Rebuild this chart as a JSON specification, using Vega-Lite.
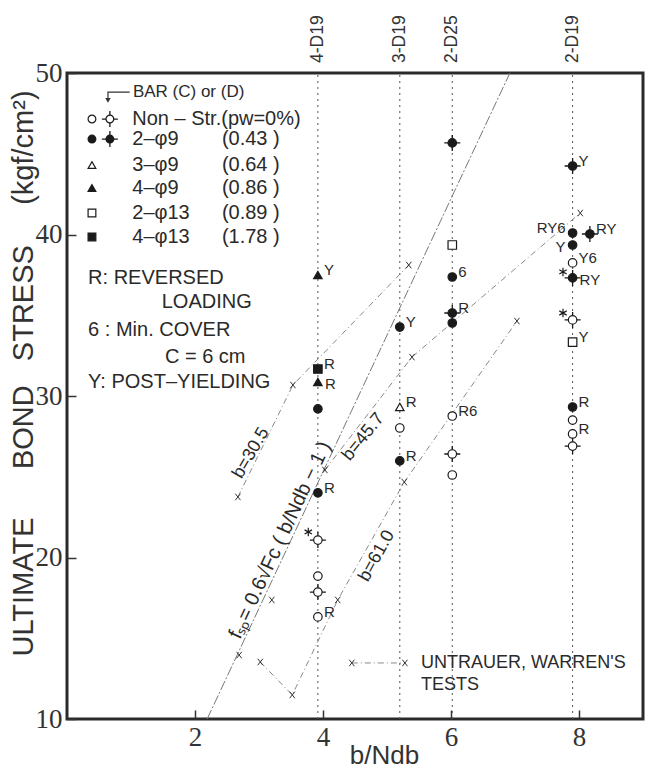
{
  "$schema": "https://vega.github.io/schema/vega-lite/v6.json",
  "width": 576,
  "height": 646,
  "autosize": {"type": "none"},
  "padding": {"left": 67, "top": 73, "right": 7, "bottom": 56},
  "background": "white",
  "config": {
    "font": "Liberation Sans",
    "view": {"stroke": "#2a2a2a", "strokeWidth": 3},
    "axis": {"domain": false, "grid": false, "labelColor": "#333", "titleColor": "#333", "labelFont": "Liberation Sans Narrow", "titleFont": "Liberation Sans", "titleFontWeight": "normal", "tickColor": "#333", "tickWidth": 1.5},
    "text": {"font": "Liberation Sans", "color": "#2a2a2a"}
  },
  "datasets": {
    "bars": [
      {"x": 3.92, "name": "4-D19"},
      {"x": 5.2, "name": "3-D19"},
      {"x": 6.02, "name": "2-D25"},
      {"x": 7.9, "name": "2-D19"}
    ],
    "fsp": [
      {"x": 2.19, "y": 10},
      {"x": 6.92, "y": 50}
    ],
    "uw": [
      {"x": 2.67, "y": 23.75, "series": "b=30.5"},
      {"x": 3.53, "y": 30.68, "series": "b=30.5"},
      {"x": 5.34, "y": 38.11, "series": "b=30.5"},
      {"x": 4.03, "y": 25.42, "series": "b=45.7"},
      {"x": 5.39, "y": 32.41, "series": "b=45.7"},
      {"x": 8.02, "y": 41.33, "series": "b=45.7"},
      {"x": 3.02, "y": 13.53, "series": "b=61.0"},
      {"x": 3.52, "y": 11.49, "series": "b=61.0"},
      {"x": 4.23, "y": 17.37, "series": "b=61.0"},
      {"x": 5.27, "y": 24.67, "series": "b=61.0"},
      {"x": 7.03, "y": 34.64, "series": "b=61.0"},
      {"x": 2.69, "y": 13.96, "series": null},
      {"x": 3.2, "y": 17.37, "series": null}
    ],
    "uwLegend": [
      {"x": 4.45, "y": 13.47},
      {"x": 5.28, "y": 13.47}
    ],
    "pts": [
      {"x": 6.02, "y": 45.67, "type": "2-φ9", "crossed": true, "label": ""},
      {"x": 6.02, "y": 39.35, "type": "2-φ13", "crossed": false, "label": ""},
      {"x": 6.02, "y": 37.37, "type": "2-φ9", "crossed": false, "label": "6"},
      {"x": 6.02, "y": 35.14, "type": "2-φ9", "crossed": true, "label": "R"},
      {"x": 6.02, "y": 34.52, "type": "2-φ9", "crossed": false, "label": ""},
      {"x": 6.02, "y": 28.76, "type": "Non-Str", "crossed": false, "label": "R6"},
      {"x": 6.02, "y": 26.41, "type": "Non-Str", "crossed": true, "label": ""},
      {"x": 6.02, "y": 25.11, "type": "Non-Str", "crossed": false, "label": ""},
      {"x": 5.2, "y": 34.27, "type": "2-φ9", "crossed": false, "label": "Y"},
      {"x": 5.2, "y": 29.32, "type": "3-φ9", "crossed": false, "label": "R"},
      {"x": 5.2, "y": 28.02, "type": "Non-Str", "crossed": false, "label": ""},
      {"x": 5.2, "y": 25.98, "type": "2-φ9", "crossed": false, "label": "R"},
      {"x": 3.92, "y": 37.49, "type": "4-φ9", "crossed": false, "label": "Y"},
      {"x": 3.92, "y": 31.67, "type": "4-φ13", "crossed": false, "label": "R"},
      {"x": 3.92, "y": 30.87, "type": "4-φ9", "crossed": false, "label": "R"},
      {"x": 3.92, "y": 29.2, "type": "2-φ9", "crossed": false, "label": ""},
      {"x": 3.92, "y": 24.0, "type": "2-φ9", "crossed": false, "label": "R"},
      {"x": 3.77, "y": 21.58, "type": "other", "crossed": false, "label": ""},
      {"x": 3.92, "y": 21.08, "type": "Non-Str", "crossed": true, "label": ""},
      {"x": 3.92, "y": 18.85, "type": "Non-Str", "crossed": false, "label": ""},
      {"x": 3.92, "y": 17.86, "type": "Non-Str", "crossed": true, "label": ""},
      {"x": 3.92, "y": 16.32, "type": "Non-Str", "crossed": false, "label": "R"},
      {"x": 7.9, "y": 44.24, "type": "2-φ9", "crossed": true, "label": "Y"},
      {"x": 7.9, "y": 40.09, "type": "2-φ9", "crossed": false, "label": "RY6"},
      {"x": 8.17, "y": 40.03, "type": "2-φ9", "crossed": true, "label": "RY"},
      {"x": 7.9, "y": 39.35, "type": "2-φ9", "crossed": false, "label": "Y"},
      {"x": 7.9, "y": 38.24, "type": "Non-Str", "crossed": false, "label": "Y6"},
      {"x": 7.75, "y": 37.68, "type": "other", "crossed": false, "label": ""},
      {"x": 7.9, "y": 37.31, "type": "2-φ9", "crossed": true, "label": "RY"},
      {"x": 7.75, "y": 35.14, "type": "other", "crossed": false, "label": ""},
      {"x": 7.9, "y": 34.71, "type": "Non-Str", "crossed": true, "label": ""},
      {"x": 7.9, "y": 33.34, "type": "2-φ13", "crossed": false, "label": "Y"},
      {"x": 7.9, "y": 29.32, "type": "2-φ9", "crossed": false, "label": "R"},
      {"x": 7.9, "y": 28.51, "type": "Non-Str", "crossed": false, "label": ""},
      {"x": 7.9, "y": 27.65, "type": "Non-Str", "crossed": false, "label": "R"},
      {"x": 7.9, "y": 26.9, "type": "Non-Str", "crossed": true, "label": ""}
    ],
    "legSym": [
      {"x": 0.39, "y": 47.15, "type": "Non-Str", "crossed": false},
      {"x": 0.67, "y": 47.15, "type": "Non-Str", "crossed": true},
      {"x": 0.39, "y": 45.91, "type": "2-φ9", "crossed": false},
      {"x": 0.67, "y": 45.91, "type": "2-φ9", "crossed": true},
      {"x": 0.39, "y": 44.3, "type": "3-φ9", "crossed": false},
      {"x": 0.39, "y": 42.88, "type": "4-φ9", "crossed": false},
      {"x": 0.39, "y": 41.33, "type": "2-φ13", "crossed": false},
      {"x": 0.39, "y": 39.85, "type": "4-φ13", "crossed": false}
    ],
    "legText": [
      {"x": 1.02, "y": 47.15, "text": "Non – Str.(pw=0%)"},
      {"x": 1.02, "y": 45.91, "text": "2–φ9"},
      {"x": 2.42, "y": 45.91, "text": "(0.43 )"},
      {"x": 1.02, "y": 44.3, "text": "3–φ9"},
      {"x": 2.42, "y": 44.3, "text": "(0.64 )"},
      {"x": 1.02, "y": 42.88, "text": "4–φ9"},
      {"x": 2.42, "y": 42.88, "text": "(0.86 )"},
      {"x": 1.02, "y": 41.33, "text": "2–φ13"},
      {"x": 2.42, "y": 41.33, "text": "(0.89 )"},
      {"x": 1.02, "y": 39.85, "text": "4–φ13"},
      {"x": 2.42, "y": 39.85, "text": "(1.78 )"},
      {"x": 0.33, "y": 37.31, "text": "R: REVERSED"},
      {"x": 1.48, "y": 35.82, "text": "LOADING"},
      {"x": 0.33, "y": 34.09, "text": "6 : Min. COVER"},
      {"x": 1.53, "y": 32.41, "text": "C = 6 cm"},
      {"x": 0.33, "y": 30.87, "text": "Y: POST–YIELDING"}
    ],
    "uwText": [
      {"x": 5.53, "y": 13.47, "text": "UNTRAUER, WARREN'S"},
      {"x": 5.53, "y": 12.1, "text": "TESTS"}
    ],
    "header": [
      {"x": 1.03, "y": 48.82, "text": "BAR (C) or (D)"}
    ],
    "arrow": [
      {"x": 0.98, "y": 48.82, "o": 1},
      {"x": 0.64, "y": 48.82, "o": 2},
      {"x": 0.64, "y": 48.3, "o": 3}
    ],
    "lineLab": [
      {"x": 2.875, "y": 26.47, "text": "b=30.5"},
      {"x": 4.63, "y": 27.46, "text": "b=45.7"},
      {"x": 4.84, "y": 20.09, "text": "b=61.0"},
      {"x": 3.33, "y": 21.08, "text": "fₛₚ= 0.6√Fc ( b/Ndb − 1 )"}
    ]
  },
  "layer": [
    {
      "data": {"name": "bars"},
      "mark": {"type": "rule", "strokeDash": [2, 4], "color": "#555", "strokeWidth": 1},
      "encoding": {
        "x": {"field": "x", "type": "quantitative", "scale": {"domain": [0, 9], "nice": false, "zero": false}},
        "y": {"datum": 10, "type": "quantitative", "scale": {"domain": [10, 50], "nice": false, "zero": false}},
        "y2": {"datum": 50}
      }
    },
    {
      "data": {"name": "bars"},
      "mark": {"type": "text", "angle": 270, "align": "left", "baseline": "middle", "dx": 10, "fontSize": 17.5, "color": "#333"},
      "encoding": {
        "x": {"field": "x", "type": "quantitative"},
        "y": {"datum": 50, "type": "quantitative"},
        "text": {"field": "name"}
      }
    },
    {
      "data": {"name": "fsp"},
      "mark": {"type": "line", "strokeDash": [10, 2, 2, 2], "color": "#777", "strokeWidth": 1},
      "encoding": {
        "x": {"field": "x", "type": "quantitative"},
        "y": {"field": "y", "type": "quantitative"}
      }
    },
    {
      "data": {"name": "uw"},
      "transform": [{"filter": "datum.series != null"}],
      "mark": {"type": "line", "strokeDash": [6, 3, 1, 3], "color": "#888", "strokeWidth": 1},
      "encoding": {
        "x": {"field": "x", "type": "quantitative"},
        "y": {"field": "y", "type": "quantitative"},
        "detail": {"field": "series"}
      }
    },
    {
      "data": {"name": "uw"},
      "mark": {"type": "point", "shape": "M-0.8,-1L0.8,1M-0.8,1L0.8,-1", "size": 42, "filled": false, "stroke": "#333", "strokeWidth": 1, "opacity": 1},
      "encoding": {
        "x": {"field": "x", "type": "quantitative"},
        "y": {"field": "y", "type": "quantitative"}
      }
    },
    {
      "data": {"name": "uwLegend"},
      "mark": {"type": "line", "strokeDash": [6, 3, 1, 3], "color": "#888", "strokeWidth": 1},
      "encoding": {
        "x": {"field": "x", "type": "quantitative"},
        "y": {"field": "y", "type": "quantitative"}
      }
    },
    {
      "data": {"name": "uwLegend"},
      "mark": {"type": "point", "shape": "M-0.8,-1L0.8,1M-0.8,1L0.8,-1", "size": 42, "filled": false, "stroke": "#333", "strokeWidth": 1, "opacity": 1},
      "encoding": {
        "x": {"field": "x", "type": "quantitative"},
        "y": {"field": "y", "type": "quantitative"}
      }
    },
    {
      "data": {"name": "pts"},
      "transform": [{"filter": "datum.crossed"}],
      "mark": {"type": "point", "shape": "M-1,0H1M0,-1V1", "size": 256, "filled": false, "stroke": "#1a1a1a", "strokeWidth": 1.3, "opacity": 1},
      "encoding": {
        "x": {"field": "x", "type": "quantitative"},
        "y": {"field": "y", "type": "quantitative"}
      }
    },
    {
      "data": {"name": "pts"},
      "mark": {"type": "point", "filled": true, "size": 72, "stroke": "#1a1a1a", "strokeWidth": 1.2, "opacity": 1},
      "encoding": {
        "x": {"field": "x", "type": "quantitative", "axis": {"values": [2, 4, 6, 8], "format": "d", "offset": -9, "tickSize": 9, "labelFontSize": 27, "labelPadding": 5, "title": "b/Ndb", "titleFontSize": 26, "titleX": 317, "titleY": 53, "titleBaseline": "alphabetic"}},
        "y": {"field": "y", "type": "quantitative", "axis": {"values": [10, 20, 30, 40, 50], "format": "d", "offset": -9, "tickSize": 9, "labelFontSize": 27, "labelPadding": 5, "title": "ULTIMATE\u00a0\u00a0\u00a0\u00a0\u00a0\u00a0BOND\u00a0\u00a0\u00a0STRESS\u00a0\u00a0\u00a0\u00a0\u00a0(kgf/cm²)", "titleFontSize": 29, "titleX": -44, "titleY": 300, "titleBaseline": "alphabetic"}},
        "shape": {"field": "type", "type": "nominal", "legend": null, "scale": {"domain": ["Non-Str", "2-φ9", "3-φ9", "4-φ9", "2-φ13", "4-φ13", "other"], "range": ["circle", "circle", "triangle-up", "triangle-up", "square", "square", "M0,-1V1M-0.87,-0.5L0.87,0.5M-0.87,0.5L0.87,-0.5"]}},
        "fill": {"field": "type", "type": "nominal", "legend": null, "scale": {"domain": ["Non-Str", "2-φ9", "3-φ9", "4-φ9", "2-φ13", "4-φ13", "other"], "range": ["white", "#1a1a1a", "white", "#1a1a1a", "white", "#1a1a1a", "#1a1a1a"]}}
      }
    },
    {
      "data": {"name": "pts"},
      "transform": [{"filter": "datum.label != '' && datum.label != 'RY6' && !(datum.label == 'Y' && datum.y > 39 && datum.y < 40) && !(datum.label == 'R' && datum.type == '4-φ9') && !(datum.label == 'RY' && datum.y < 38)"}],
      "mark": {"type": "text", "align": "left", "baseline": "middle", "dx": 6, "dy": -5, "fontSize": 15},
      "encoding": {
        "x": {"field": "x", "type": "quantitative"},
        "y": {"field": "y", "type": "quantitative"},
        "text": {"field": "label"}
      }
    },
    {
      "data": {"name": "pts"},
      "transform": [{"filter": "(datum.label == 'R' && datum.type == '4-φ9') || (datum.label == 'RY' && datum.y < 38)"}],
      "mark": {"type": "text", "align": "left", "baseline": "middle", "dx": 7, "dy": 2, "fontSize": 15},
      "encoding": {
        "x": {"field": "x", "type": "quantitative"},
        "y": {"field": "y", "type": "quantitative"},
        "text": {"field": "label"}
      }
    },
    {
      "data": {"name": "pts"},
      "transform": [{"filter": "datum.label == 'RY6'"}],
      "mark": {"type": "text", "align": "right", "baseline": "middle", "dx": -7, "dy": -5, "fontSize": 15},
      "encoding": {
        "x": {"field": "x", "type": "quantitative"},
        "y": {"field": "y", "type": "quantitative"},
        "text": {"field": "label"}
      }
    },
    {
      "data": {"name": "pts"},
      "transform": [{"filter": "datum.label == 'Y' && datum.y > 39 && datum.y < 40"}],
      "mark": {"type": "text", "align": "right", "baseline": "middle", "dx": -7, "dy": 2, "fontSize": 15},
      "encoding": {
        "x": {"field": "x", "type": "quantitative"},
        "y": {"field": "y", "type": "quantitative"},
        "text": {"field": "label"}
      }
    },
    {
      "data": {"name": "legSym"},
      "transform": [{"filter": "datum.crossed"}],
      "mark": {"type": "point", "shape": "M-1,0H1M0,-1V1", "size": 256, "filled": false, "stroke": "#1a1a1a", "strokeWidth": 1.3, "opacity": 1},
      "encoding": {
        "x": {"field": "x", "type": "quantitative"},
        "y": {"field": "y", "type": "quantitative"}
      }
    },
    {
      "data": {"name": "legSym"},
      "mark": {"type": "point", "filled": true, "size": 60, "stroke": "#1a1a1a", "strokeWidth": 1.2, "opacity": 1},
      "encoding": {
        "x": {"field": "x", "type": "quantitative"},
        "y": {"field": "y", "type": "quantitative"},
        "shape": {"field": "type", "type": "nominal", "legend": null},
        "fill": {"field": "type", "type": "nominal", "legend": null}
      }
    },
    {
      "data": {"name": "arrow"},
      "mark": {"type": "line", "color": "#333", "strokeWidth": 1.2},
      "encoding": {
        "x": {"field": "x", "type": "quantitative"},
        "y": {"field": "y", "type": "quantitative"},
        "order": {"field": "o"}
      }
    },
    {
      "data": {"name": "arrow"},
      "transform": [{"filter": "datum.o == 3"}],
      "mark": {"type": "point", "shape": "triangle-down", "size": 30, "filled": true, "color": "#333", "opacity": 1},
      "encoding": {
        "x": {"field": "x", "type": "quantitative"},
        "y": {"field": "y", "type": "quantitative"}
      }
    },
    {
      "data": {"name": "header"},
      "mark": {"type": "text", "align": "left", "baseline": "middle", "fontSize": 17},
      "encoding": {
        "x": {"field": "x", "type": "quantitative"},
        "y": {"field": "y", "type": "quantitative"},
        "text": {"field": "text"}
      }
    },
    {
      "data": {"name": "legText"},
      "mark": {"type": "text", "align": "left", "baseline": "middle", "fontSize": 20},
      "encoding": {
        "x": {"field": "x", "type": "quantitative"},
        "y": {"field": "y", "type": "quantitative"},
        "text": {"field": "text"}
      }
    },
    {
      "data": {"name": "uwText"},
      "mark": {"type": "text", "align": "left", "baseline": "middle", "fontSize": 18},
      "encoding": {
        "x": {"field": "x", "type": "quantitative"},
        "y": {"field": "y", "type": "quantitative"},
        "text": {"field": "text"}
      }
    },
    {
      "data": {"name": "lineLab"},
      "transform": [{"filter": "datum.text == 'b=30.5'"}],
      "mark": {"type": "text", "align": "center", "baseline": "middle", "angle": -60, "fontSize": 18},
      "encoding": {
        "x": {"field": "x", "type": "quantitative"},
        "y": {"field": "y", "type": "quantitative"},
        "text": {"field": "text"}
      }
    },
    {
      "data": {"name": "lineLab"},
      "transform": [{"filter": "datum.text == 'b=45.7'"}],
      "mark": {"type": "text", "align": "center", "baseline": "middle", "angle": -51, "fontSize": 18},
      "encoding": {
        "x": {"field": "x", "type": "quantitative"},
        "y": {"field": "y", "type": "quantitative"},
        "text": {"field": "text"}
      }
    },
    {
      "data": {"name": "lineLab"},
      "transform": [{"filter": "datum.text == 'b=61.0'"}],
      "mark": {"type": "text", "align": "center", "baseline": "middle", "angle": -61, "fontSize": 18},
      "encoding": {
        "x": {"field": "x", "type": "quantitative"},
        "y": {"field": "y", "type": "quantitative"},
        "text": {"field": "text"}
      }
    },
    {
      "data": {"name": "lineLab"},
      "transform": [{"filter": "indexof(datum.text, 'f') == 0"}],
      "mark": {"type": "text", "align": "center", "baseline": "middle", "angle": -65, "fontSize": 20},
      "encoding": {
        "x": {"field": "x", "type": "quantitative"},
        "y": {"field": "y", "type": "quantitative"},
        "text": {"field": "text"}
      }
    }
  ]
}
